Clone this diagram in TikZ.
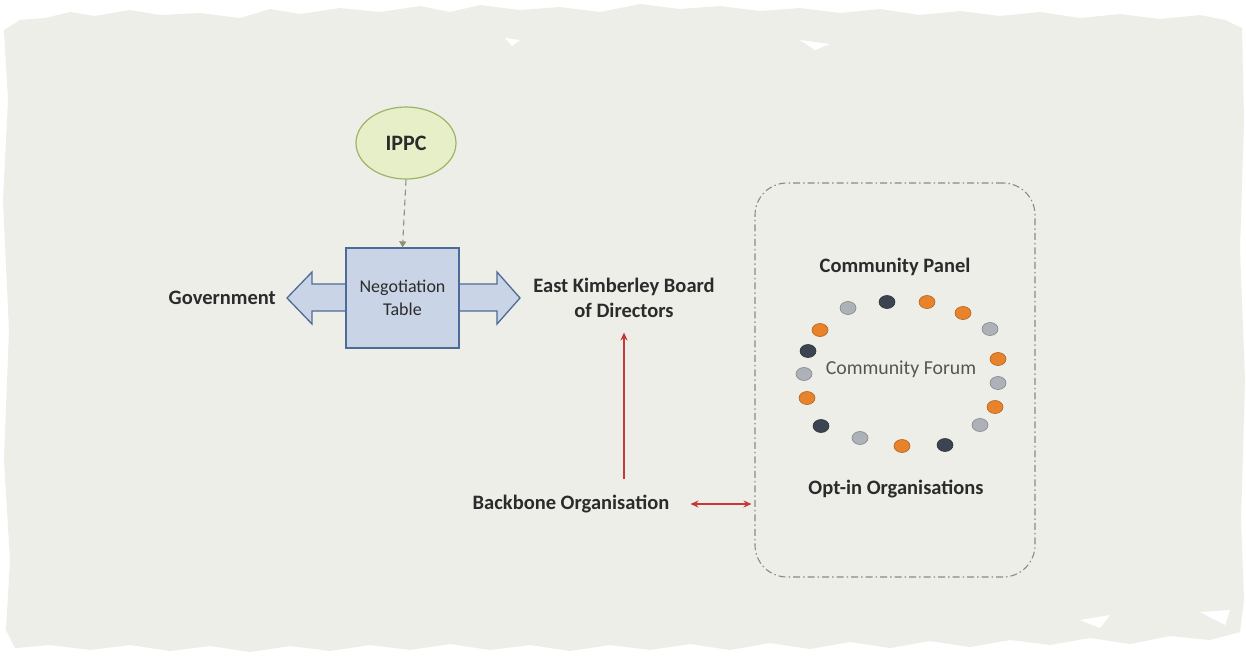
\documentclass[tikz,border=0pt]{standalone}
\usepackage{fontspec}
\setmainfont{Carlito}
\usetikzlibrary{arrows.meta,shapes.geometric,calc}
\definecolor{paper}{HTML}{EEEEE9}
\definecolor{ink}{HTML}{2B2B2B}
\definecolor{ippcfill}{HTML}{E6EFC8}
\definecolor{ippcline}{HTML}{9CB468}
\definecolor{negfill}{HTML}{C9D5E6}
\definecolor{negline}{HTML}{4E6B98}
\definecolor{linkred}{HTML}{C8383A}
\definecolor{dashgrey}{HTML}{8E9078}
\definecolor{panelline}{HTML}{8A8C80}
\definecolor{dotorange}{HTML}{E8832B}
\definecolor{dotdark}{HTML}{3B4450}
\definecolor{dotgrey}{HTML}{ADB1B8}
\tikzset{
  lbl/.style={font=\fontsize{20.5}{25}\selectfont\bfseries, text=ink, align=center, inner sep=2pt},
  ippcnode/.style={ellipse, draw=ippcline, line width=1.2pt, fill=ippcfill, minimum width=100pt, minimum height=72pt, inner sep=0pt, font=\fontsize{22}{26}\selectfont\bfseries, text=ink},
  negbox/.style={rectangle, draw=negline, line width=1.3pt, fill=negfill, minimum width=113pt, minimum height=100pt, inner sep=0pt, align=center, font=\fontsize{18}{23}\selectfont, text=ink},
  dasharrow/.style={draw=dashgrey, line width=1.1pt, dash pattern=on 6pt off 4pt, -{Triangle[length=6pt,width=7pt]}},
  redarrow/.style={draw=linkred, line width=1.1pt, -{Stealth[length=8pt,width=7pt]}},
  redboth/.style={draw=linkred, line width=1.1pt, {Stealth[length=8pt,width=7pt]}-{Stealth[length=8pt,width=7pt]}},
  panelbox/.style={rectangle, draw=panelline, line width=1.1pt, rounded corners=32pt, dash pattern=on 7pt off 3pt on 1.5pt off 3pt, minimum width=280pt, minimum height=394pt},
  cdot/.style={ellipse, minimum width=16pt, minimum height=13pt, inner sep=0pt, line width=0.6pt}
}
\begin{document}
\begin{tikzpicture}[x=1pt,y=-1pt]
\useasboundingbox (0,0) rectangle (1246,657);
\fill[white] (0,0) rectangle (1246,657);
% torn paper panel
\fill[paper] (4,30) -- (20,20) -- (45,18) -- (70,12) -- (95,16) -- (130,10) -- (160,15) -- (200,13) -- (240,18) -- (270,9) -- (300,14) -- (340,8) -- (380,12) -- (420,6) -- (450,12) -- (480,5) -- (520,10) -- (560,7) -- (600,12) -- (640,4) -- (680,9) -- (720,6) -- (760,11) -- (800,8) -- (840,13) -- (880,9) -- (920,15) -- (960,11) -- (1000,16) -- (1040,12) -- (1080,18) -- (1120,14) -- (1160,19) -- (1200,15) -- (1225,20) -- (1242,28)
  -- (1244,120) -- (1240,250) -- (1245,380) -- (1241,520) -- (1244,600) -- (1240,632)
  -- (1210,640) -- (1170,636) -- (1130,644) -- (1090,638) -- (1050,645) -- (1010,640) -- (970,647) -- (930,641) -- (890,648) -- (850,642) -- (810,649) -- (770,643) -- (730,650) -- (690,644) -- (650,650) -- (610,645) -- (570,651) -- (530,645) -- (490,650) -- (450,644) -- (410,650) -- (370,645) -- (330,651) -- (290,646) -- (250,652) -- (210,646) -- (170,651) -- (130,645) -- (90,650) -- (50,645) -- (15,648) -- (6,630)
  -- (10,560) -- (4,460) -- (9,330) -- (3,200) -- (8,100) -- cycle;
% small white specks in the paper
\fill[white] (505,38) -- (520,40) -- (512,46) -- cycle;
\fill[white] (800,40) -- (830,44) -- (815,50) -- cycle;
\fill[white] (1080,620) -- (1110,615) -- (1100,628) -- cycle;
\fill[white] (1200,612) -- (1230,610) -- (1225,625) -- cycle;

% nodes
\node[ippcnode] (ippc) at (406,143) {IPPC};
% double block arrow behind the negotiation table
\filldraw[fill=negfill, draw=negline, line width=1.3pt, line join=miter]
  (312,284) -- (497,284) -- (497,272) -- (520,298) -- (497,324) -- (497,311)
  -- (312,311) -- (312,324) -- (287,298) -- (312,272) -- cycle;
\node[negbox] (neg) at (402.5,298) {Negotiation\\Table};
\node[lbl, anchor=east] (gov) at (278,298) {Government};
\node[lbl] (ekb) at (624,298) {East Kimberley Board\\of Directors};
\node[lbl] (bb) at (571,504) {Backbone Organisation};
\node[panelbox] (panel) at (895,380) {};
\node[lbl] (cpanel) at (895,267) {Community Panel};
\node[font=\fontsize{19.8}{24}\selectfont, text=ink!80] (forum) at (901,369) {Community Forum};
\node[lbl] (optin) at (896,489) {Opt-in Organisations};

% dots of the community forum ring
\foreach \x/\y/\c [count=\i] in {848/308/dotgrey, 887/302/dotdark, 927/302/dotorange, 963/313/dotorange, 990/329/dotgrey, 998/359/dotorange, 998/383/dotgrey, 995/407/dotorange, 980/425/dotgrey, 945/445/dotdark, 902/446/dotorange, 860/438/dotgrey, 821/426/dotdark, 807/398/dotorange, 804/374/dotgrey, 808/351/dotdark, 820/330/dotorange}
  \node[cdot, fill=\c, draw=\c!75!black] (d\i) at (\x,\y) {};

% connectors
\draw[dasharrow] (ippc.south) -- (neg.north);
\draw[redarrow, shorten <=14pt, shorten >=12.5pt] (ekb.south |- bb.north) -- (ekb.south);
\draw[redboth, shorten <=19pt, shorten >=3pt] (bb.east) -- (panel.west |- bb.east);
\end{tikzpicture}
\end{document}
